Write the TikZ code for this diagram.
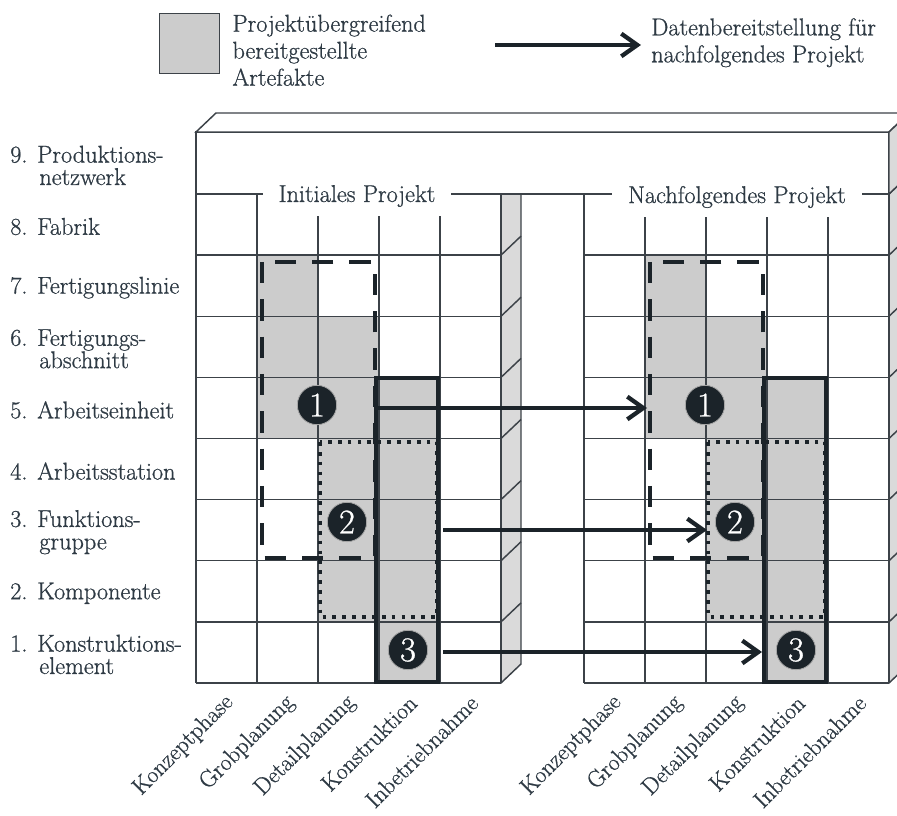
\documentclass[tikz,border=0pt]{standalone}
\usepackage{fontspec}
\setmainfont{Latin Modern Roman}[FakeBold=0.8]
\usepackage{tikz}
\usetikzlibrary{arrows.meta, positioning}

\definecolor{gridline}{RGB}{60,66,72}
\definecolor{ink}{RGB}{27,35,41}
\definecolor{textcol}{RGB}{46,58,68}
\definecolor{artefact}{RGB}{204,204,204}
\definecolor{sideface}{RGB}{218,218,218}

\newcommand{\lvlfont}{\fontsize{18.2}{16.8}\selectfont}
\newcommand{\phasefont}{\fontsize{17.6}{17}\selectfont}
\newcommand{\legfont}{\fontsize{18.2}{20.25}\selectfont}

\begin{document}
\begin{tikzpicture}[
  x=0.75pt, y=-0.75pt,
  cellline/.style={draw=gridline, line width=1.1pt},
  face/.style={cellline, fill=sideface, line join=round},
  levellabel/.style={anchor=west, align=left, inner sep=0pt, text=textcol, font=\lvlfont},
  phaselabel/.style={anchor=east, rotate=45, inner sep=0pt, text=textcol, font=\phasefont},
  project/.style={fill=white, inner xsep=12pt, inner ysep=6.5pt, text=textcol, font=\lvlfont},
  legendtext/.style={align=left, inner sep=0pt, text=textcol, font=\legfont},
  dashedbox/.style={draw=ink, line width=3.4pt, dash pattern=on 16pt off 12pt},
  dottedbox/.style={draw=ink, line width=2.8pt, dash pattern=on 2.8pt off 4.6pt},
  solidbox/.style={draw=ink, line width=3.6pt},
  num/.style={circle, fill=ink, draw=gray!70, line width=0.6pt, text=white, minimum size=29.5pt, inner sep=0pt, font=\fontsize{26}{26}\selectfont},
  arrow/.style={draw=ink, line width=3.2pt, -{Straight Barb[length=12pt, width=17pt]}},
  ]
  \useasboundingbox (0,0) rectangle (897,816);

  % Legend
  \node[cellline, fill=artefact, minimum size=45pt, inner sep=0pt] (legbox) at (189.5,43.5) {};
  \node[legendtext, right=9pt of legbox, yshift=-5pt] (legboxtext) {Projektübergreifend\\bereitgestellte\\Artefakte};
  \node[legendtext, anchor=north west] (legarrowtext) at (651,18) {Datenbereitstellung für\\nachfolgendes Projekt};
  \coordinate (legfrom) at (495,45);
  \coordinate (legto) at (641,45);
  \draw[arrow] (legfrom) -- (legto);

  % Side faces of both grids
  \foreach \xo in {196,584}{
    \filldraw[face] ({\xo+305},194) -- ({\xo+305},683) -- ({\xo+325},664) -- ({\xo+325},175) -- cycle;
    \foreach \r in {1,...,7}
      \draw[cellline] ({\xo+305},{683-61.125*\r}) -- ++(20,-19);
  }

  % Shared artefacts (grey cells)
  \foreach \xo in {196,584}
    \foreach \c/\r in {2/7,2/6,2/5,3/6,3/5,3/4,3/3,3/2,4/5,4/4,4/3,4/2,4/1}
      \fill[artefact] ({\xo+61*(\c-1)},{683-61.125*\r}) rectangle ++(61,61.125);

  % Grid: levels 1-8, five phases
  \foreach \xo in {196,584}{
    \foreach \r in {0,...,8}
      \draw[cellline] (\xo,{683-61.125*\r}) -- ++(305,0);
    \foreach \c in {0,...,5}
      \draw[cellline] ({\xo+61*\c},194) -- ++(0,489);
  }

  % Level 9 block across both projects
  \filldraw[cellline, fill=white] (196,132) rectangle (889,194);
  \filldraw[cellline, fill=white] (196,132) -- (216,113) -- (909,113) -- (889,132) -- cycle;
  \filldraw[face] (889,132) -- (909,113) -- (909,175) -- (889,194) -- cycle;

  % Project titles
  \node[project] (init) at (357,196) {Initiales Projekt};
  \node[project] (next) at (737,197) {Nachfolgendes Projekt};

  % Artefact outlines
  \foreach \xo in {196,584}{
    \draw[dashedbox] ({\xo+66},262) rectangle ({\xo+179},558);
    \draw[dottedbox] ({\xo+124},442) rectangle ({\xo+241},617);
    \draw[solidbox] ({\xo+180},378) rectangle ({\xo+242},682);
  }

  % Hand-over arrows
  \coordinate (out1) at (377,408);
  \coordinate (in1) at (647,408);
  \coordinate (out2) at (443,530);
  \coordinate (in2) at (707,530);
  \coordinate (out3) at (443,652);
  \coordinate (in3) at (762,652);
  \draw[arrow] (out1) -- (in1);
  \draw[arrow] (out2) -- (in2);
  \draw[arrow] (out3) -- (in3);

  % Numbered artefacts
  \foreach \xo/\p in {196/i,584/n}{
    \node[num] (one\p) at ({\xo+121},405) {1};
    \node[num] (two\p) at ({\xo+151},522) {2};
    \node[num] (three\p) at ({\xo+212},650) {3};
  }

  % Levels
  \foreach \lv/\txt in {9/{9. Produktions-\\\hspace*{1.2em}netzwerk},
                        8/{8. Fabrik},
                        7/{7. Fertigungslinie},
                        6/{6. Fertigungs-\\\hspace*{1.2em}abschnitt},
                        5/{5. Arbeitseinheit},
                        4/{4. Arbeitsstation},
                        3/{3. Funktions-\\\hspace*{1.2em}gruppe},
                        2/{2. Komponente},
                        1/{1. Konstruktions-\\\hspace*{1.2em}element}}
    \node[levellabel] (lvl\lv) at (10,{683-61.125*(\lv-0.5)+2}) {\txt};

  % Phases
  \foreach \xo/\p in {196/i,584/n}
    \foreach \c/\txt in {1/Konzeptphase,2/Grobplanung,3/Detailplanung,4/Konstruktion,5/Inbetriebnahme}
      \node[phaselabel] (\p\c) at ({\xo+61*\c-27},699) {\txt};

\end{tikzpicture}
\end{document}
